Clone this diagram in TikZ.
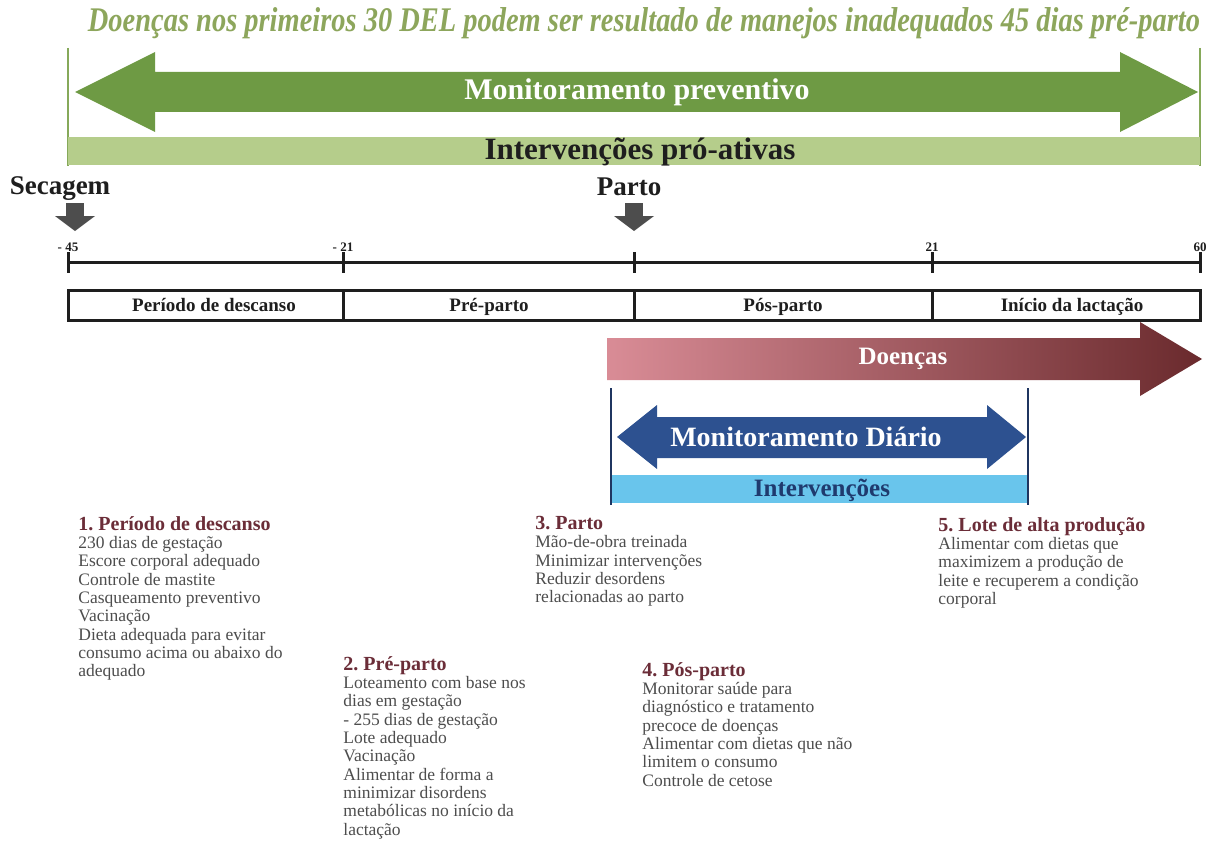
\documentclass[tikz,border=0pt]{standalone}
\usepackage{fontspec}
\setmainfont{Liberation Serif}
\frenchspacing
\definecolor{titlegreen}{HTML}{8DA65C}
\definecolor{arrowgreen}{HTML}{6E9A44}
\definecolor{bargreen}{HTML}{B5CD8B}
\definecolor{linegreen}{HTML}{86A95A}
\definecolor{dzleft}{HTML}{D98C96}
\definecolor{dzright}{HTML}{6A2A2D}
\definecolor{bluearrow}{HTML}{2D5190}
\definecolor{bluebar}{HTML}{69C5EC}
\definecolor{bluetext}{HTML}{1F3A6E}
\definecolor{blueline}{HTML}{1F3560}
\definecolor{headc}{HTML}{6B2D38}
\definecolor{bodyc}{HTML}{4D4D4D}
\definecolor{inkc}{HTML}{1E1E1E}
\definecolor{downc}{HTML}{4D4D4D}
\tikzset{
  whitebig/.style={text=white,font=\fontsize{15}{17}\selectfont\bfseries,inner sep=0pt},
  axis/.style={draw=inkc,line width=1.5pt},
  periodbox/.style={draw=inkc,line width=1.5pt},
  periodlbl/.style={text=inkc,font=\fontsize{9.5}{10}\selectfont\bfseries,inner sep=0pt,anchor=base},
  ticklbl/.style={text=inkc,font=\fontsize{6.5}{7}\selectfont\bfseries,inner sep=0pt},
  eventlbl/.style={text=inkc,font=\fontsize{13.5}{15}\selectfont\bfseries,inner sep=0pt},
  downarrow/.style={fill=downc},
  blocktxt/.style={anchor=north west,align=left,inner sep=0pt,text=bodyc,font=\fontsize{8.75}{9.15}\selectfont},
}
\newcommand{\hd}[1]{{\color{headc}\fontsize{10}{9.15}\selectfont\bfseries #1}}
\begin{document}
\begin{tikzpicture}[x=0.5pt,y=-0.5pt]
\useasboundingbox (0,0) rectangle (1219,856);
\fill[white] (0,0) rectangle (1219,856);

% title
\node[inner sep=0pt,text=titlegreen] (title) at (644,23)
  {\resizebox{556pt}{12pt}{\bfseries\itshape Doenças nos primeiros 30 DEL podem ser resultado de manejos inadequados 45 dias pré-parto}};

% green frame lines
\draw[linegreen,line width=1.2pt] (68,48) -- (68,166);
\draw[linegreen,line width=1.2pt] (1200,48) -- (1200,166);

% monitoramento preventivo arrow
\fill[arrowgreen] (75,92) -- (155,52) -- (155,72) -- (1120,72) -- (1120,52) -- (1198,92)
  -- (1120,132) -- (1120,112) -- (155,112) -- (155,132) -- cycle;
\node[whitebig] (monprev) at (637,92) {Monitoramento preventivo};

% intervencoes pro-ativas bar
\fill[bargreen] (68,137) rectangle (1200,165);
\node[inner sep=0pt,text=inkc,font=\fontsize{15.5}{17}\selectfont\bfseries] (intpro) at (640,152) {Intervenções pró-ativas};

% events
\node[eventlbl] (secagem) at (60,189) {Secagem};
\node[eventlbl] (parto) at (629,187) {Parto};
\fill[downarrow] (66,203) rectangle (84,217);
\fill[downarrow] (55,216) -- (95,216) -- (75,231) -- cycle;
\fill[downarrow] (625,203) rectangle (643,217);
\fill[downarrow] (614,216) -- (654,216) -- (634,231) -- cycle;

% tick labels
\node[ticklbl] (t45) at (68,247) {- 45};
\node[ticklbl] (t21n) at (343,247) {- 21};
\node[ticklbl] (t21) at (932,247) {21};
\node[ticklbl] (t60) at (1200,247) {60};

% timeline
\coordinate (a0) at (68,262);
\coordinate (a1) at (1200,262);
\draw[axis] (a0) -- (a1);
\foreach \x in {68,343,634,932,1200} \draw[axis] (\x,252) -- (\x,273);

% period boxes
\draw[periodbox] (68,290) rectangle (1200,320);
\foreach \x in {343,634,932} \draw[periodbox] (\x,290) -- (\x,320);
\node[periodlbl] (p1) at (214,311) {Período de descanso};
\node[periodlbl] (p2) at (489,311) {Pré-parto};
\node[periodlbl] (p3) at (783,311) {Pós-parto};
\node[periodlbl] (p4) at (1072,311) {Início da lactação};

% doencas arrow
\shade[left color=dzleft,right color=dzright] (607,338) -- (1140,338) -- (1140,322) -- (1202,359)
  -- (1140,396) -- (1140,380) -- (607,380) -- cycle;
\node[whitebig,font=\fontsize{12.5}{14}\selectfont\bfseries] (doencas) at (903,359) {Doenças};

% blue section
\draw[blueline,line width=1pt] (611,388) -- (611,505);
\draw[blueline,line width=1pt] (1028,388) -- (1028,505);
\fill[bluearrow] (617,437) -- (657,405) -- (657,417) -- (987,417) -- (987,405) -- (1026,437)
  -- (987,469) -- (987,458) -- (657,458) -- (657,469) -- cycle;
\node[whitebig,font=\fontsize{14}{16}\selectfont\bfseries] (mondia) at (806,437) {Monitoramento Diário};
\fill[bluebar] (612,475) rectangle (1027,503);
\node[inner sep=0pt,text=bluetext,font=\fontsize{12.5}{14}\selectfont\bfseries] (interv) at (822,490) {Intervenções};

% text blocks
\node[blocktxt] (b1) at (78,516) {\hd{1. Período de descanso}\\
230 dias de gestação\\
Escore corporal adequado\\
Controle de mastite\\
Casqueamento preventivo\\
Vacinação\\
Dieta adequada para evitar\\
consumo acima ou abaixo do\\
adequado};

\node[blocktxt] (b2) at (343,656) {\hd{2. Pré-parto}\\
Loteamento com base nos\\
dias em gestação\\
- 255 dias de gestação\\
Lote adequado\\
Vacinação\\
Alimentar de forma a\\
minimizar disordens\\
metabólicas no início da\\
lactação};

\node[blocktxt] (b3) at (535,516) {\hd{3. Parto}\\
Mão-de-obra treinada\\
Minimizar intervenções\\
Reduzir desordens\\
relacionadas ao parto};

\node[blocktxt] (b4) at (642,662) {\hd{4. Pós-parto}\\
Monitorar saúde para\\
diagnóstico e tratamento\\
precoce de doenças\\
Alimentar com dietas que não\\
limitem o consumo\\
Controle de cetose};

\node[blocktxt] (b5) at (938,517) {\hd{5. Lote de alta produção}\\
Alimentar com dietas que\\
maximizem a produção de\\
leite e recuperem a condição\\
corporal};
\end{tikzpicture}
\end{document}
